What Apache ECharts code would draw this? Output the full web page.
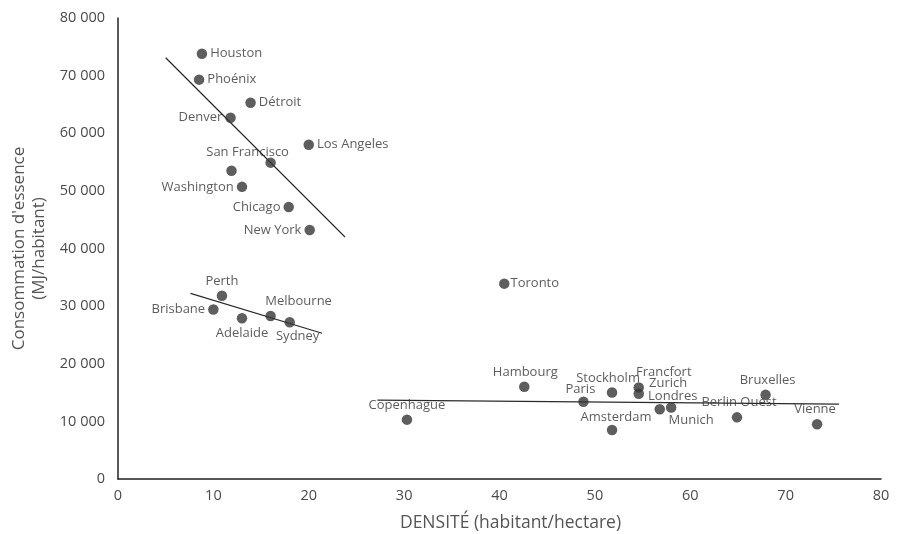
<!DOCTYPE html>
<html>
<head>
<meta charset="utf-8">
<script src="https://cdn.jsdelivr.net/npm/echarts@6/dist/echarts.min.js"></script>
<style>
  html, body { margin: 0; padding: 0; background: #fff; }
  #chart { width: 897px; height: 534px; }
</style>
</head>
<body>
<div id="chart"></div>
<script>
// Cities, urban density (inhabitants / hectare) and gasoline use (MJ / inhabitant)
const cityNames = [
  'Houston', 'Phoénix', 'Détroit', 'Denver', 'Los Angeles', 'San Francisco', '',
  'Washington', 'Chicago', 'New York',
  'Perth', 'Brisbane', 'Adelaide', 'Melbourne', 'Sydney',
  'Toronto',
  'Hambourg', 'Stockholm', 'Francfort', 'Zurich', 'Paris', 'Londres', 'Munich',
  'Amsterdam', 'Copenhague', 'Berlin Ouest', 'Bruxelles', 'Vienne'
];
const densityValues = [
  8.8, 8.5, 13.9, 11.8, 20.0, 16.0, 11.9,
  13.0, 17.9, 20.1,
  10.9, 10.0, 13.0, 16.0, 18.0,
  40.5,
  42.6, 51.8, 54.6, 54.6, 48.8, 56.8, 58.0,
  51.8, 30.3, 64.9, 67.9, 73.3
];
const fuelValues = [
  73800, 69300, 65300, 62700, 58000, 54900, 53500,
  50700, 47200, 43200,
  31800, 29400, 27900, 28300, 27200,
  33900,
  16000, 15000, 15900, 14800, 13400, 12100, 12400,
  8500, 10300, 10700, 14600, 9500
];

// Trend lines for each group of cities (start and end points)
const usTrend = [[5.0, 73100], [23.8, 42000]];
const australiaTrend = [[7.6, 32200], [21.4, 25300]];
const europeTrend = [[27.2, 13700], [75.6, 13000]];

// Axis ticks
const xTicks = [0, 10, 20, 30, 40, 50, 60, 70, 80];
const yTicks = [0, 10000, 20000, 30000, 40000, 50000, 60000, 70000, 80000];

// Where each city's name sits around its dot
const labelPlacement = {
  'Houston': ['right', [0, 0]],
  'Phoénix': ['right', [0, 0]],
  'Détroit': ['right', [0, 0]],
  'Denver': ['left', [0, 0]],
  'Los Angeles': ['right', [0, 0]],
  'San Francisco': ['top', [-23, 4]],
  'Washington': ['left', [0, 0]],
  'Chicago': ['left', [0, 0]],
  'New York': ['left', [0, 0]],
  'Perth': ['top', [0, 0]],
  'Brisbane': ['left', [0, 0]],
  'Adelaide': ['bottom', [0, 0]],
  'Melbourne': ['top', [28, 0]],
  'Sydney': ['bottom', [8, -1]],
  'Toronto': ['right', [-2, 0]],
  'Hambourg': ['top', [1, 0]],
  'Stockholm': ['top', [-4, 0]],
  'Francfort': ['top', [25, 0]],
  'Zurich': ['right', [2, -10]],
  'Paris': ['top', [-3, 2]],
  'Londres': ['top', [13, 2]],
  'Munich': ['bottom', [20, -2]],
  'Amsterdam': ['top', [4, 2]],
  'Copenhague': ['top', [0, 0]],
  'Berlin Ouest': ['top', [2, 0]],
  'Bruxelles': ['top', [2, 0]],
  'Vienne': ['top', [-2, 0]]
};

const FONT = '"Open Sans", "Noto Sans", sans-serif';

const points = cityNames.map((name, i) => {
  const place = labelPlacement[name] || ['right', [0, 0]];
  return {
    name: name,
    value: [densityValues[i], fuelValues[i]],
    label: { show: name !== '', position: place[0], offset: place[1] }
  };
});

const trendLine = (data) => ({
  type: 'line',
  data: data,
  symbol: 'none',
  silent: true,
  lineStyle: { color: '#2a2a2a', width: 1.2 },
  z: 1
});

const fmtThousands = (v) => String(v).replace(/\B(?=(\d{3})+(?!\d))/g, ' ');

const chart = echarts.init(document.getElementById('chart'), null, { renderer: 'canvas' });
chart.setOption({
  backgroundColor: '#ffffff',
  animation: false,
  grid: { left: 118, right: 16, top: 18, bottom: 55, containLabel: false, outerBoundsMode: 'none' },
  xAxis: {
    type: 'value',
    min: xTicks[0],
    max: xTicks[xTicks.length - 1],
    interval: xTicks[1] - xTicks[0],
    name: 'DENSITÉ (habitant/hectare)',
    nameLocation: 'middle',
    nameGap: 35,
    nameTextStyle: { fontFamily: FONT, fontSize: 17.5, color: '#555', padding: [0, 0, 0, 22] },
    axisLine: { lineStyle: { color: '#222', width: 1.5 } },
    axisTick: { show: false },
    splitLine: { show: false },
    axisLabel: { fontFamily: FONT, fontSize: 14.5, color: '#4a4a4a', margin: 9 }
  },
  yAxis: {
    type: 'value',
    min: yTicks[0],
    max: yTicks[yTicks.length - 1],
    interval: yTicks[1] - yTicks[0],
    name: "Consommation d'essence\n(MJ/habitant)",
    nameLocation: 'middle',
    nameRotate: 90,
    nameGap: 65,
    nameTextStyle: { fontFamily: FONT, fontSize: 17, color: '#555', lineHeight: 20 },
    axisLine: { show: true, lineStyle: { color: '#222', width: 1.5 } },
    axisTick: { show: false },
    splitLine: { show: false },
    axisLabel: { fontFamily: FONT, fontSize: 14.5, color: '#4a4a4a', margin: 13, formatter: fmtThousands }
  },
  series: [
    trendLine(usTrend),
    trendLine(australiaTrend),
    trendLine(europeTrend),
    {
      type: 'scatter',
      data: points,
      symbol: 'circle',
      symbolSize: 10.5,
      itemStyle: { color: '#363636' },
      label: {
        show: true,
        formatter: '{b}',
        distance: 3,
        fontFamily: FONT,
        fontSize: 13,
        color: '#333'
      },
      z: 3
    }
  ]
});
</script>
</body>
</html>
